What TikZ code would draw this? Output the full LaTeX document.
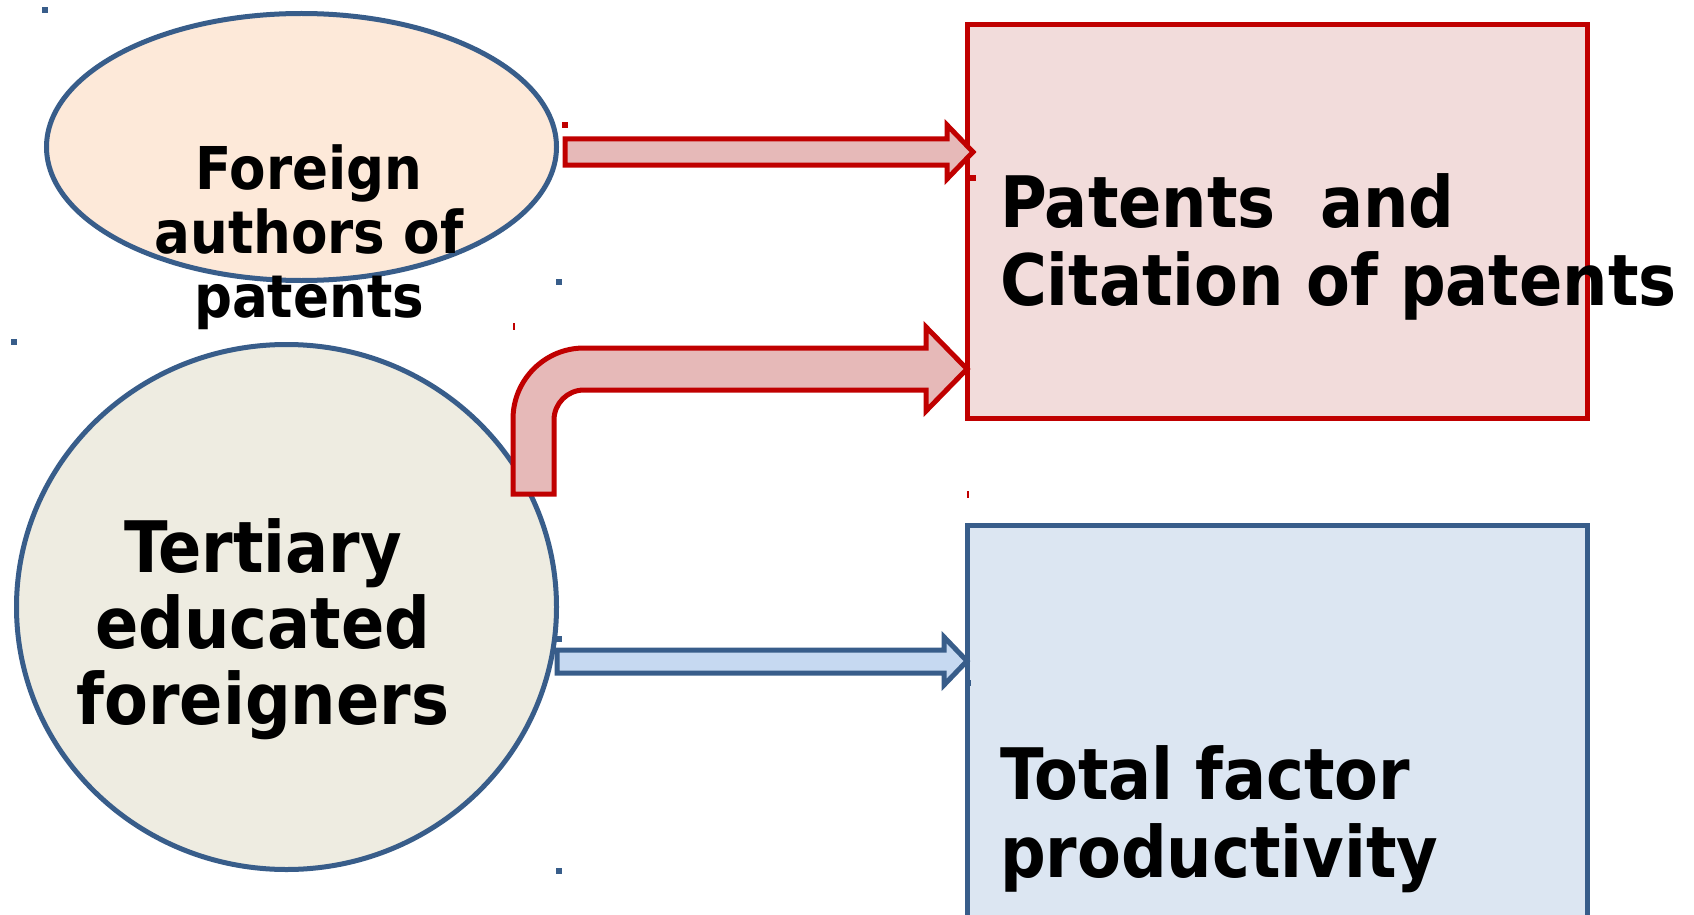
\documentclass[tikz,border=0pt]{standalone}
\usepackage{fontspec}
\setmainfont{DejaVu Sans Condensed}[BoldFont={DejaVu Sans Condensed Bold}]
\usetikzlibrary{shapes.geometric}
\definecolor{bblue}{HTML}{385D8A}
\definecolor{dred}{HTML}{C00000}
\definecolor{peach}{HTML}{FDE9D9}
\definecolor{beige}{HTML}{EEECE1}
\definecolor{pinkbox}{HTML}{F2DCDB}
\definecolor{bluebox}{HTML}{DCE6F2}
\definecolor{redarrow}{HTML}{E6B9B8}
\definecolor{bluearrow}{HTML}{C6D9F1}
\tikzset{
  blueshape/.style={draw=bblue, line width=5pt, inner sep=0pt, outer sep=0pt},
  redblock/.style={draw=dred, fill=redarrow, line width=5pt, line join=miter},
  blueblock/.style={draw=bblue, fill=bluearrow, line width=5pt, line join=miter},
  lbl/.style={inner sep=0pt, outer sep=0pt, font=\bfseries},
}
\begin{document}
\begin{tikzpicture}[x=1pt,y=-1pt]
\useasboundingbox (0,0) rectangle (1694,915);
\clip (0,0) rectangle (1694,915);

% shapes
\node[blueshape, ellipse, fill=peach, minimum width=510pt, minimum height=267pt] (foreign) at (301.5,147) {};
\node[blueshape, ellipse, fill=beige, minimum width=540pt, minimum height=525pt] (tertiary) at (286.5,607) {};
\node[draw=dred, fill=pinkbox, line width=5pt, inner sep=0pt, minimum width=620pt, minimum height=393pt] (patents) at (1277,221.5) {};
\node[blueshape, fill=bluebox, minimum width=620pt, minimum height=420pt] (tfp) at (1277,735) {};

% block arrows
\draw[redblock] (565,139) -- (947,139) -- (947,125) -- (973,152) -- (947,179) -- (947,165) -- (565,165) -- cycle;
\draw[redblock] (513,494) -- (513,419) arc[start angle=180, end angle=270, radius=71] -- (926,348) -- (926,327) -- (967,369) -- (926,411) -- (926,390) -- (584,390) arc[start angle=270, end angle=180, radius=30] -- (554,494) -- cycle;
\draw[blueblock] (557,650) -- (944,650) -- (944,637) -- (967,661) -- (944,685) -- (944,673) -- (557,673) -- cycle;

% labels (base anchor = baseline of the last line)
\node[lbl, align=center, anchor=base, font=\bfseries\fontsize{59}{64}\selectfont] (tforeign) at (309,317) {Foreign\\authors of\\patents};
\node[lbl, align=center, anchor=base, font=\bfseries\fontsize{71}{76}\selectfont] (ttert) at (263,724) {Tertiary\\educated\\foreigners};
\node[lbl, align=left, anchor=base west, font=\bfseries\fontsize{71}{78}\selectfont] (tpat) at (1000,305) {Patents\ \ and\\Citation of patents};
\node[lbl, align=left, anchor=base west, font=\bfseries\fontsize{71}{78}\selectfont] (ttfp) at (1000,877) {Total factor\\productivity};

% small handle marks
\fill[bblue] (42,7) rectangle (48,13);
\fill[dred] (562,122) rectangle (568,128);
\fill[dred] (970,175) rectangle (976,181);
\fill[bblue] (556,279) rectangle (562,285);
\fill[bblue] (11,339) rectangle (17,345);
\fill[dred] (513,323) rectangle (514.5,330);
\fill[dred] (967,491) rectangle (968.5,498);
\fill[bblue] (556,636) rectangle (562,642);
\fill[bblue] (965,680) rectangle (971,686);
\fill[bblue] (556,868) rectangle (562,874);
\end{tikzpicture}
\end{document}
